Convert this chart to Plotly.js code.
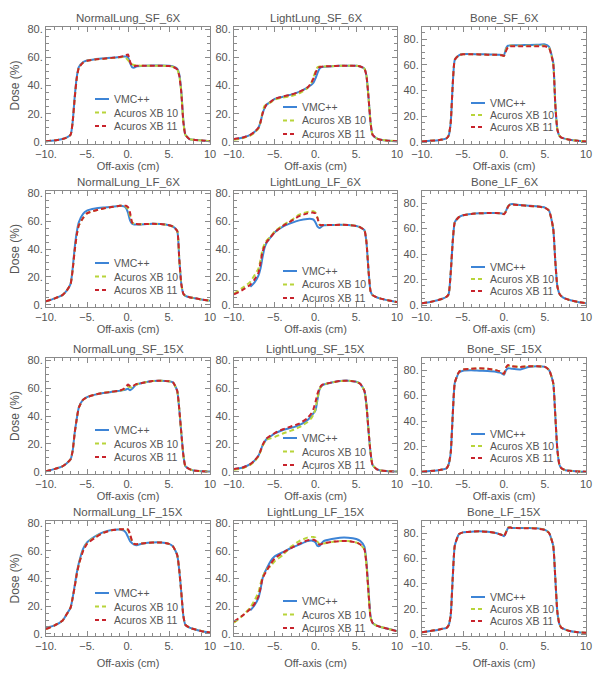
<!DOCTYPE html>
<html>
<head>
<meta charset="utf-8">
<script src="https://cdn.plot.ly/plotly-3.0.1.min.js"></script>
<style>html,body{margin:0;padding:0;background:#fff;}#chart{width:600px;height:674px;}</style>
</head>
<body>
<div id="chart"></div>
<script>
// Off-axis positions (cm), shared by every profile
const offAxis = [-10,-9,-8,-7.5,-7,-6.75,-6.5,-6.25,-6,-5.5,-5,-4,-3,-2,-1,-0.5,-0.25,0,0.25,0.5,0.75,1,2,3,4,5,5.5,6,6.25,6.5,6.75,7,7.5,8,9,10];

const panelTitles = ['NormalLung_SF_6X','LightLung_SF_6X','Bone_SF_6X',
                     'NormalLung_LF_6X','LightLung_LF_6X','Bone_LF_6X',
                     'NormalLung_SF_15X','LightLung_SF_15X','Bone_SF_15X',
                     'NormalLung_LF_15X','LightLung_LF_15X','Bone_LF_15X'];
const seriesNames = ['VMC++','Acuros XB 10','Acuros XB 11'];
const xTickVals = [-10,-5,0,5,10];
const xTickText = ['\u221210.','\u22125.','0.','5.','10'];
const yTickVals = [0,20,40,60,80];
const yTickText = ['0.','20.','40.','60.','80.'];

// Dose (%) profiles
const nlSf6_vmc   = [0.5,1,2,3,5,14,32,46,53,56.5,57.7,58.7,59.2,59.7,60.2,60.5,60.6,60,56,53,52.7,53.5,54,54.1,54.1,54,53.5,52,48,36,15,5,2,1.5,1,0.5];
const nlSf6_axb10 = [0.5,1,2,3,5,14,31,45,52.5,56.2,57.5,58.5,59,59.5,60,60.3,59.5,58,56,55,54.5,54.2,54,54,54,53.8,53.2,51.5,47,35,14,5,2,1.5,1,0.5];
const nlSf6_axb11 = [0.5,1,2,3,5,14,31,45,52.5,56.2,57.5,58.5,59,59.6,60.2,61,61.5,62,57,54,53.7,54,54,54,54,53.8,53.2,51.5,47,35,14,5,2,1.5,1,0.5];

const llSf6_vmc   = [2,3,5,7,10,14,20,24,26.5,28.5,30.5,32,33.5,35.5,38.5,40.5,42,45,49,52,53,53.3,53.7,54,54,54,53.5,52,47,32,14,5,2.5,1.5,0.8,0.5];
const llSf6_axb10 = [1.5,2.5,4.5,6.5,9.5,14,21,25.5,26.5,28,30,31.5,32.5,34.5,38,42,46,50,53,53.5,53.5,53.5,53.7,54,54,54,53.5,52,47,32,14,5,2.5,1.5,0.8,0.5];
const llSf6_axb11 = [2,3,5,7,10,14,20,24,26.5,28.5,30.5,32.2,33.5,35.5,38.5,42,45,49,52,53,53.3,53.5,53.7,54,54,54,53.5,52,47,32,14,5,2.5,1.5,0.8,0.5];

const boSf6_vmc   = [0.5,1,1.5,2,3,5,15,45,64,67.5,68.5,68.5,68.3,68.2,68,68,67.8,67.5,73,75,75.2,75.3,75.4,75.5,75.6,76,74,62,30,10,5,3.5,2.5,1.8,1,0.5];
const boSf6_axb10 = [0.5,1,1.5,2,3,5,15,45,64,67.5,68.3,68.3,68.2,68,67.9,67.8,67.5,67,72,74.5,75,75,75,75,75,75,73.5,61,30,10,5,3.5,2.5,1.8,1,0.5];
const boSf6_axb11 = [0.5,1,1.5,2,3,5,15,45,64,67.5,68.3,68.3,68.2,68,67.9,67.8,67.5,67,71,74,74.5,74.5,74.5,74.5,74.5,74.5,73,61,30,10,5,3.5,2.5,1.8,1,0.5];

const nlLf6_vmc   = [2.5,4.5,7,10,15,26,41,52,59,65,67.5,69,69.7,70.2,71,70.5,69.5,66,60.5,58,57.5,57.5,57.7,58,57.8,57,56,53,33,15,8,6.5,5.5,5,3.8,3];
const nlLf6_axb10 = [2.5,4.5,7,10,15,25,39,50,57,62,65.5,67.5,69,70,71,71,70.5,68.5,64,59,58,57.8,57.8,58,57.8,57,56,53,33,15,8,6.5,5.5,5,3.8,3];
const nlLf6_axb11 = [2.5,4.5,7,10,15,25,39,50,57,62,65.5,67.5,69,70,71,71,71,70,66,59,58,57.8,57.8,58,57.8,57,56,53,33,15,8,6.5,5.5,5,3.8,3];

const llLf6_vmc   = [null,null,13,16,21,26,34,41,44.5,48.5,52,56,58.5,60.5,61.5,61.5,61,59,56,55,56,57,57.2,57.3,57.2,56.5,55.5,53.5,45,25,10,7,5.5,4.5,3.2,2];
const llLf6_axb10 = [8,12,16.5,21,26,32,40,43.5,46,49,52.5,57,60.5,64.5,66.5,67,67,66,62.5,57.5,57,57.2,57.2,57.3,57.2,56.5,55.5,53.5,45,25,10,7,5.5,4.5,3.2,2];
const llLf6_axb11 = [7.5,10.5,14.5,18,23,30,38,42,45,48.5,52,56.5,60,63.5,65.5,66,66,65.5,62,57.5,57,57.2,57.2,57.3,57.2,56.5,55.5,53.5,45,25,10,7,5.5,4.5,3.2,2];

const boLf6_vmc   = [1.5,2.5,4,5,6.5,8.5,25,50,65,69,70.5,71.5,72,72.2,72.3,72,71.8,71.5,74,77.5,79,79.3,78.5,78,77.5,76.5,74,60,35,15,9,7,5,4,2.5,1.5];
const boLf6_axb10 = [1.5,2.5,4,5,6.5,8.5,25,50,65,69,70.5,71.5,72,72.2,72.2,72,71.8,71.5,74,77.5,78.8,79,78.3,77.8,77.3,76.3,74,60,35,15,9,7,5,4,2.5,1.5];
const boLf6_axb11 = [1.5,2.5,4,5,6.5,8.5,25,50,65,69,70.5,71.5,72,72.2,72.2,72,71.8,71.3,73.5,77.3,78.8,79,78.3,77.8,77.3,76.3,74,60,35,15,9,7,5,4,2.5,1.5];

const nlSf15_vmc   = [0.5,2,4,6,9,15,28,38,46,51.5,53.5,55.3,56.5,57.3,58,58.5,59,59.5,58.5,59.5,61,62.5,64,65,65.3,64.8,64,58,45,28,12,4,2,1,0.5,0.3];
const nlSf15_axb10 = [0.5,2,4,6,9,15,28,38,46,51.5,53.5,55.3,56.5,57.3,58,59,60,61,60.5,60.5,61.8,62.5,64,65,65.3,64.8,64,58,45,28,12,4,2,1,0.5,0.3];
const nlSf15_axb11 = [0.5,2,4,6,9,15,28,38,46,51.5,53.5,55.3,56.5,57.3,58.2,59.5,61,62.5,61.5,61,62,62.8,64,65,65.3,64.8,64,58,45,28,12,4,2,1,0.5,0.3];

const llSf15_vmc   = [2,3,5.5,8,11.5,15,19,21.5,23.5,25.5,27.5,30,31.5,33.5,37,40,42,44,52,59,61.5,62.5,64,65,65.3,64.5,63,58,48,30,14,5,2,1,0.5,0.3];
const llSf15_axb10 = [1.5,2.5,5,7.5,11,14.5,18.5,21,23,24,25,27.5,29.5,32,35.5,38.5,41,45,53,59,61.5,62.5,64,65,65.3,64.5,63,58,48,30,14,5,2,1,0.5,0.3];
const llSf15_axb11 = [2,3,5.5,8,11.5,15,19,22,24,26,27.8,30.5,32.5,34.5,38.5,42,45,50,56,60,62,62.8,64,65,65.3,64.5,63,58,48,30,14,5,2,1,0.5,0.3];

const boSf15_vmc   = [0.3,0.8,1.5,2,3,6,15,45,70,78,79.5,79.8,79.5,79.3,78.8,78,77.3,76.3,80,81.5,81.3,81,80.5,82.5,83,82.5,80,70,45,18,6,3,1.5,1,0.5,0.3];
const boSf15_axb10 = [0.3,0.8,1.5,2,3,6,15,45,70,78.5,80.5,81,81.3,81,80,79,78,77,82,83.5,83.2,83,82.5,83,83,82.5,80,70,45,18,6,3,1.5,1,0.5,0.3];
const boSf15_axb11 = [0.3,0.8,1.5,2,3,6,15,45,70,78.5,80.5,81,81.5,81,80,79,78,77,82,84,83.5,83,82.5,83,83,82.5,80,70,45,18,6,3,1.5,1,0.5,0.3];

const nlLf15_vmc   = [4.5,6,9.5,14,19,26,35,44,51,61,66,70.5,73.5,75,75.3,74.5,73,70,67,65.5,64.5,64,65.5,66,66,65,63,57,46,30,13,6.5,4.5,3.5,2,1];
const nlLf15_axb10 = [3.5,6,9.5,14,19,26,34,43,50,60,65.5,70,73,74.8,75.5,75.5,75.5,75,71,66.5,65,64.8,65.5,66,66,65,63,57,46,30,13,6.5,4.5,3.5,2,1];
const nlLf15_axb11 = [3.5,6,9.5,14,19,26,34,43,50,59.5,65,69.5,73,74.8,75.5,75.5,75.5,75.5,72,67,65,64.8,65.5,66,66,65,63,57,46,30,13,6.5,4.5,3.5,2,1];

const llLf15_vmc   = [null,null,17,20.5,26,32,40,44,47,52.5,56,59,62,64.5,67,67.5,67,66,63.5,63.5,65.5,67,68.5,69.5,69.5,68.5,67,63,52,32,13,8,6,5,3.5,2];
const llLf15_axb10 = [8,13,19,24,30,36,41,44,46.5,49,52.5,57,63,67,69.5,70,70,69.5,66.5,65,64.8,65.3,66.3,67,67,66,64.5,61,50,30,12,8,6,5,3.5,2];
const llLf15_axb11 = [9,13,18,21.5,27,33,40,43,45.5,50.5,54.5,58.5,62,65,67.5,68,68,67.5,65,64.5,64.8,65.5,66.5,67,67,66,64.5,61,50,30,12,8,6,5,3.5,2];

const boLf15_vmc   = [1.5,2.5,3.5,4.2,5,7,15,45,70,79,80.5,81,81.3,81,80,79,78.5,77.5,80.5,84,84.5,84,84,84,83.8,82.5,80,70,45,18,8,5,3.5,2.5,1.5,1];
const boLf15_axb10 = [1.5,2.5,3.5,4.2,5,7,15,45,70,79,80.5,81,81.3,81,80,79,78.5,77.5,81,84.5,84.5,84,84,84,83.8,82.5,80,70,45,18,8,5,3.5,2.5,1.5,1];
const boLf15_axb11 = [1.5,2.5,3.5,4.2,5,7,15,45,70,79,80.5,81,81.3,81,80,79,78.3,77.3,80.5,84,84.3,84,83.8,83.8,83.5,82.3,80,70,45,18,8,5,3.5,2.5,1.5,1];

const panelSeries = [
  [nlSf6_vmc, nlSf6_axb10, nlSf6_axb11],
  [llSf6_vmc, llSf6_axb10, llSf6_axb11],
  [boSf6_vmc, boSf6_axb10, boSf6_axb11],
  [nlLf6_vmc, nlLf6_axb10, nlLf6_axb11],
  [llLf6_vmc, llLf6_axb10, llLf6_axb11],
  [boLf6_vmc, boLf6_axb10, boLf6_axb11],
  [nlSf15_vmc, nlSf15_axb10, nlSf15_axb11],
  [llSf15_vmc, llSf15_axb10, llSf15_axb11],
  [boSf15_vmc, boSf15_axb10, boSf15_axb11],
  [nlLf15_vmc, nlLf15_axb10, nlLf15_axb11],
  [llLf15_vmc, llLf15_axb10, llLf15_axb11],
  [boLf15_vmc, boLf15_axb10, boLf15_axb11]
];

// ---- styling / layout ----
const W = 600, H = 674;
const colPx = [[46,210],[234,397],[422,586]];
const rowPx = [[27,144],[191,307],[358,474],[521,636]];
const legendOffset = [[49,72,13.5],[49,80,13.5],[49,76,12]]; // per column: dx, dy of first row, row step (px)
const lineStyles = [
  {color:'#3d84d6', width:2, dash:'solid'},
  {color:'#b8d43a', width:2, dash:'5px,3px'},
  {color:'#c8232c', width:2, dash:'5px,3px'}
];
const txtColor = '#555';
const axColor = '#8a8a8a';
const fontFam = 'Liberation Sans, Arial, sans-serif';

const traces = [];
const layout = {
  width: W, height: H,
  margin: {l:0, r:0, t:0, b:0},
  paper_bgcolor: '#fff', plot_bgcolor: '#fff',
  font: {family: fontFam, size: 11, color: txtColor},
  showlegend: false,
  annotations: [], shapes: []
};

panelSeries.forEach((series, i) => {
  const n = i + 1;
  const col = i % 3, row = Math.floor(i / 3);
  const xa = 'x' + (n === 1 ? '' : n), ya = 'y' + (n === 1 ? '' : n);
  const isBone = col === 2;
  series.forEach((ys, k) => {
    traces.push({
      type: 'scatter', mode: 'lines', x: offAxis, y: ys,
      name: seriesNames[k], xaxis: xa, yaxis: ya,
      line: Object.assign({shape:'spline', smoothing:0.5}, lineStyles[k]),
      connectgaps: false, hoverinfo: 'skip'
    });
  });
  const [x0, x1] = colPx[col], [yt, yb] = rowPx[row];
  const common = {
    showgrid: false, zeroline: false, showline: true, linecolor: axColor, linewidth: 1,
    mirror: 'ticks', ticks: 'inside', ticklen: 5, tickcolor: axColor, tickwidth: 1,
    tickfont: {family: fontFam, size: 11, color: txtColor}, automargin: false, fixedrange: true
  };
  layout['xaxis' + (n === 1 ? '' : n)] = Object.assign({}, common, {
    domain: [x0 / W, x1 / W], anchor: ya,
    range: [-10, 10], tickmode: 'array', tickvals: xTickVals, ticktext: xTickText,
    minor: {tickmode: 'linear', tick0: 0, dtick: 1, ticks: 'inside', ticklen: 3, tickcolor: axColor},
    title: {text: 'Off-axis (cm)', font: {family: fontFam, size: 11, color: txtColor}, standoff: row === 3 ? 8 : 3}
  });
  layout['yaxis' + (n === 1 ? '' : n)] = Object.assign({}, common, {
    domain: [1 - yb / H, 1 - yt / H], anchor: xa,
    range: isBone ? [-1.5, 89.5] : [-1.5, 81.5],
    tickmode: 'array', tickvals: yTickVals, ticktext: yTickText,
    minor: {tickmode: 'linear', tick0: 0, dtick: 5, ticks: 'inside', ticklen: 3, tickcolor: axColor},
    title: col === 0 ? {text: 'Dose (%)', font: {family: fontFam, size: 12, color: txtColor}, standoff: 5} : {text: ''}
  });
  layout.annotations.push({
    text: panelTitles[i], xref: xa + ' domain', yref: ya + ' domain',
    x: 0.5, y: 1, xanchor: 'center', yanchor: 'bottom', yshift: 1, showarrow: false,
    font: {family: fontFam, size: 11.5, color: txtColor}
  });
  // legend drawn inside each panel
  const [ldx, ldy, lstep] = legendOffset[col];
  seriesNames.forEach((nm, k) => {
    const ly = 1 - (yt + ldy + k * lstep) / H;
    const lx = (x0 + ldx) / W;
    layout.shapes.push({
      type: 'line', xref: 'paper', yref: 'paper',
      x0: lx, x1: lx + 14 / W, y0: ly, y1: ly,
      line: {color: lineStyles[k].color, width: 2, dash: k === 0 ? 'solid' : '4px,3px'}
    });
    layout.annotations.push({
      text: nm, xref: 'paper', yref: 'paper', x: lx + 17 / W, y: ly,
      xanchor: 'left', yanchor: 'middle', showarrow: false,
      font: {family: fontFam, size: 10.5, color: txtColor}
    });
  });
});

Plotly.newPlot('chart', traces, layout, {staticPlot: true, displayModeBar: false});
</script>
</body>
</html>
